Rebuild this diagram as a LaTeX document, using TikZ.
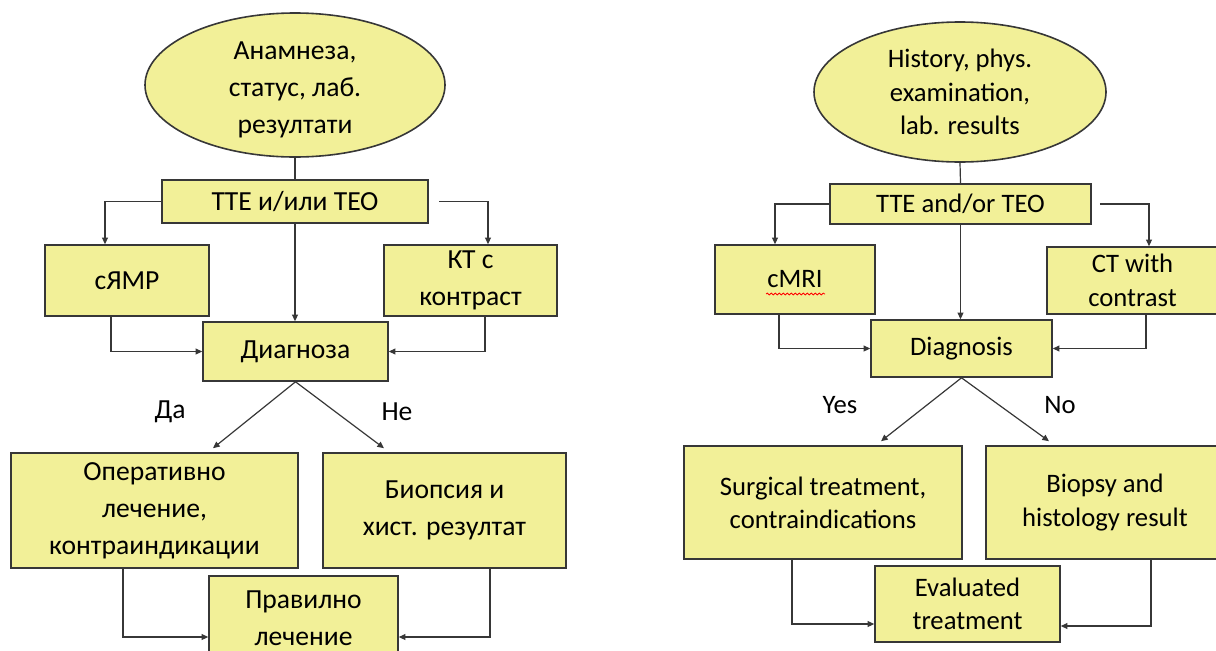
\documentclass[tikz,border=0pt]{standalone}
\usepackage{fontspec}
\setmainfont{Carlito}
\usetikzlibrary{shapes.geometric,arrows.meta,calc,decorations.pathmorphing}
\definecolor{boxfill}{RGB}{242,240,152}
\definecolor{edgegray}{RGB}{55,55,55}
\tikzset{
  sz/.style 2 args={minimum width=#1*0.75pt, minimum height=#2*0.75pt},
  box/.style={draw=edgegray, fill=boxfill, line width=1.2pt, align=center, inner sep=0pt},
  blob/.style={box, ellipse},
  bgfont/.style={font=\fontsize{20.7}{27.75}\selectfont},
  enfont/.style={font=\fontsize{20}{25}\selectfont},
  link/.style={draw=edgegray, line width=0.9pt},
  arr/.style={link, -{Triangle[length=5pt,width=4.5pt]}}
}

\begin{document}
\begin{tikzpicture}[x=0.75pt,y=-0.75pt]
\useasboundingbox (0,0) rectangle (1216,650);
\clip (0,0) rectangle (1216,650);

% bulgarian chart
\node[blob, sz={300}{144}, label={[bgfont, align=center, yshift=-4pt]center:{Анамнеза,\\статус, лаб.\\резултати}}] (anamL) at (295,85) {};
\node[box, sz={266}{43}, bgfont] (tteL) at (295,201.5) {ТТЕ и/или ТЕО};
\node[box, sz={164}{71}, bgfont] (samr) at (127,280.5) {сЯМР};
\node[box, sz={173}{71}, bgfont] (ktL) at (470.5,280.5) {КТ с\\контраст};
\node[box, sz={185}{59}, bgfont] (diagL) at (295.5,351.5) {Диагноза};
\node[box, sz={287}{115}, bgfont] (operL) at (154.5,510.5) {Оперативно\\лечение,\\контраиндикации};
\node[box, sz={243}{115}, bgfont] (biopL) at (444.5,510.5) {Биопсия и\\хист. резултат};
\node[box, sz={189}{84}, bgfont] (pravL) at (303.5,618) {Правилно\\лечение};
\node[bgfont] (daL) at (170,412) {Да};
\node[bgfont] (neL) at (397,412) {Не};

\draw[link] (anamL.south) -- (tteL.north);
\draw[arr] (tteL.west) -| ($(samr.north)+(-22,0)$);
\draw[arr, shorten <=8pt] (tteL.east) -| ($(ktL.north)+(17.5,0)$);
\draw[arr] (tteL.south) -- (tteL.south |- diagL.north);
\draw[arr] ($(samr.south)+(-16,0)$) |- (diagL.west);
\draw[arr] ($(ktL.south)+(14.5,0)$) |- (diagL.east);
\draw[arr] (diagL.south) -- ($(operL.north)+(58.5,-4)$);
\draw[arr] (diagL.south) -- ($(biopL.north)+(-60.5,-4)$);
\draw[arr] ($(operL.south)+(-31.5,0)$) |- ($(pravL.west)+(0,19)$);
\draw[arr] ($(biopL.south)+(45.5,0)$) |- ($(pravL.east)+(0,19)$);

% english chart
\node[blob, sz={292}{140}, enfont] (histR) at (960,92) {History, phys.\\examination,\\lab. results};
\node[box, sz={261}{40}, enfont] (tteR) at (960.5,204) {TTE and/or TEO};
\node[box, sz={160}{69}, enfont] (cmri) at (795,279.5) {cMRI};
\node[box, sz={171}{67}, enfont] (ctR) at (1132.5,280.5) {CT with\\contrast};
\node[box, sz={181}{57}, enfont] (diagR) at (961.5,348.5) {Diagnosis};
\node[box, sz={278}{113}, enfont] (surg) at (823,502.5) {Surgical treatment,\\contraindications};
\node[box, sz={238}{113}, enfont] (biopR) at (1105,502.5) {Biopsy and\\histology result};
\node[box, sz={185}{76}, enfont] (evalR) at (967.5,604) {Evaluated\\treatment};
\node[enfont] (yesR) at (840,405) {Yes};
\node[enfont] (noR) at (1060,405) {No};
\draw[red, line width=0.6pt, decorate, decoration={snake, amplitude=0.7pt, segment length=3pt}]
  ($(cmri)+(-29,14.5)$) -- ($(cmri)+(30,14.5)$);

\draw[link] (histR.south) -- (tteR.north);
\draw[arr] (tteR.west) -| ($(cmri.north)+(-20,0)$);
\draw[arr, shorten <=6pt] (tteR.east) -| ($(ctR.north)+(16.5,0)$);
\draw[arr] (tteR.south) -- (tteR.south |- diagR.north);
\draw[arr] ($(cmri.south)+(-16,0)$) |- (diagR.west);
\draw[arr] ($(ctR.south)+(13.5,0)$) |- (diagR.east);
\draw[arr] (diagR.south) -- ($(surg.north)+(58,-4)$);
\draw[arr] (diagR.south) -- ($(biopR.north)+(-56,-4)$);
\draw[arr] ($(surg.south)+(-31,0)$) |- ($(evalR.west)+(0,20)$);
\draw[arr] ($(biopR.south)+(46,0)$) |- ($(evalR.east)+(0,22)$);
\end{tikzpicture}
\end{document}
